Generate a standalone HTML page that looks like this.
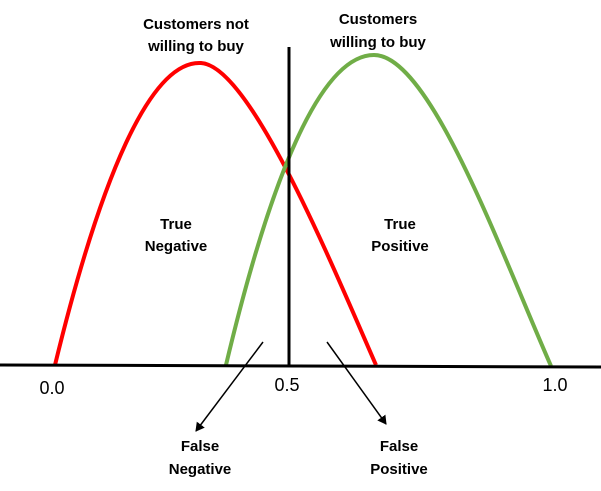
<!DOCTYPE html>
<html><head><meta charset="utf-8"><style>
html,body{margin:0;padding:0;background:#fff;}
svg{display:block;}
text{font-family:"Liberation Sans",sans-serif;fill:#000;}
.b{font-weight:bold;font-size:15px;}
.n{font-size:18px;}
</style></head><body>
<svg width="601" height="491" viewBox="0 0 601 491">
<defs><marker id="a" markerWidth="10" markerHeight="10" refX="8" refY="5" orient="auto" markerUnits="userSpaceOnUse"><path d="M0,0 L9,5 L0,10 Z" fill="#000"/></marker></defs>
<path d="M55,365 C100,180 150,60 201,63 C250,66 330,260 376,365" fill="none" stroke="#ff0000" stroke-width="4"/>
<path d="M226,365 C270,180 320,55 374,55 C430,55 500,250 551,366" fill="none" stroke="#70ad47" stroke-width="4"/>
<line x1="0" y1="365" x2="601" y2="367" stroke="#000" stroke-width="3"/>
<line x1="289" y1="47" x2="289" y2="367" stroke="#000" stroke-width="3"/>
<line x1="263" y1="342" x2="196" y2="431" stroke="#000" stroke-width="1.5" marker-end="url(#a)"/>
<line x1="327" y1="342" x2="386" y2="424" stroke="#000" stroke-width="1.5" marker-end="url(#a)"/>
<g class="b" text-anchor="middle">
<text x="196" y="29" class="b">Customers not</text>
<text x="196" y="51" class="b">willing to buy</text>
<text x="378" y="24" class="b">Customers</text>
<text x="378" y="47" class="b">willing to buy</text>
<text x="176" y="229" class="b">True</text>
<text x="176" y="251" class="b">Negative</text>
<text x="400" y="229" class="b">True</text>
<text x="400" y="251" class="b">Positive</text>
<text x="200" y="451" class="b">False</text>
<text x="200" y="474" class="b">Negative</text>
<text x="399" y="451" class="b">False</text>
<text x="399" y="474" class="b">Positive</text>
</g>
<g text-anchor="middle">
<text x="52" y="394" class="n">0.0</text>
<text x="287" y="391" class="n">0.5</text>
<text x="555" y="391" class="n">1.0</text>
</g>
</svg>
</body></html>
